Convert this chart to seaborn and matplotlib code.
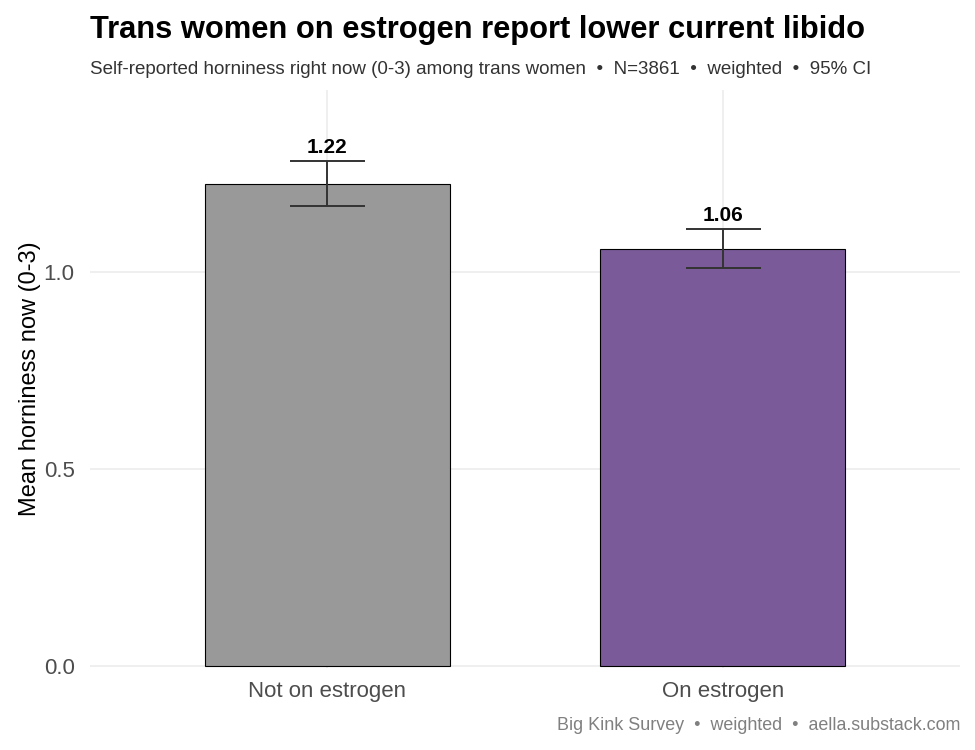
import pandas as pd
import numpy as np
import matplotlib.pyplot as plt
import seaborn as sns

groups = ["Not on estrogen", "On estrogen"]
means = [1.223, 1.058]
ci_low = [1.167, 1.010]
ci_high = [1.282, 1.109]
labels = ["1.22", "1.06"]
bar_colors = ["#999999", "#7B4FA3"]

df = pd.DataFrame({"group": groups, "mean": means})

sns.set_theme(style="whitegrid")
plt.rcParams['font.family'] = ['Liberation Sans', 'DejaVu Sans']

fig = plt.figure(figsize=(9.75, 7.5), dpi=100)
ax = fig.add_axes([90/975, 82/750, 870/975, 578/750])

sns.barplot(data=df, x="group", y="mean", hue="group", palette=bar_colors,
            width=0.62, edgecolor="black", linewidth=0.8, legend=False, ax=ax, zorder=2)

x = np.arange(len(groups))
lo = np.array(means) - np.array(ci_low)
hi = np.array(ci_high) - np.array(means)
ax.errorbar(x, means, yerr=[lo, hi], fmt="none", ecolor="#333333",
            elinewidth=1.4, capsize=27, capthick=1.4, zorder=3)

for xi, top, lab in zip(x, ci_high, labels):
    ax.text(xi, top + 0.01, lab, ha="center", va="bottom",
            fontsize=15, fontweight="bold", color="black", zorder=4)

ax.set_xlim(-0.6, 1.6)
ax.set_ylim(-0.005, 1.462)
ax.set_yticks([0.0, 0.5, 1.0])
ax.set_yticklabels(["0.0", "0.5", "1.0"])
ax.set_xlabel("")
ax.set_ylabel("Mean horniness now (0-3)", fontsize=17, color="black", labelpad=2)
ax.tick_params(axis="y", labelsize=16, colors="#4D4D4D", length=0, pad=11)
ax.tick_params(axis="x", labelsize=16, colors="#4D4D4D", length=0, pad=9)
ax.grid(True, color="#EBEBEB", linewidth=1.1, zorder=0)
ax.set_axisbelow(True)
for s in ax.spines.values():
    s.set_visible(False)
ax.set_facecolor("white")

fig.text(90/975, 1 - 30/750, "Trans women on estrogen report lower current libido",
         fontsize=22.2, fontweight="bold", ha="left", va="center", color="black")
fig.text(90/975, 1 - 69/750,
         "Self-reported horniness right now (0-3) among trans women  \u2022  N=3861  \u2022  weighted  \u2022  95% CI",
         fontsize=13.5, ha="left", va="center", color="#333333")
fig.text(960/975, 1 - 725/750, "Big Kink Survey  \u2022  weighted  \u2022  aella.substack.com",
         fontsize=12.9, ha="right", va="center", color="#808080")

fig.savefig("out.png", dpi=100)
